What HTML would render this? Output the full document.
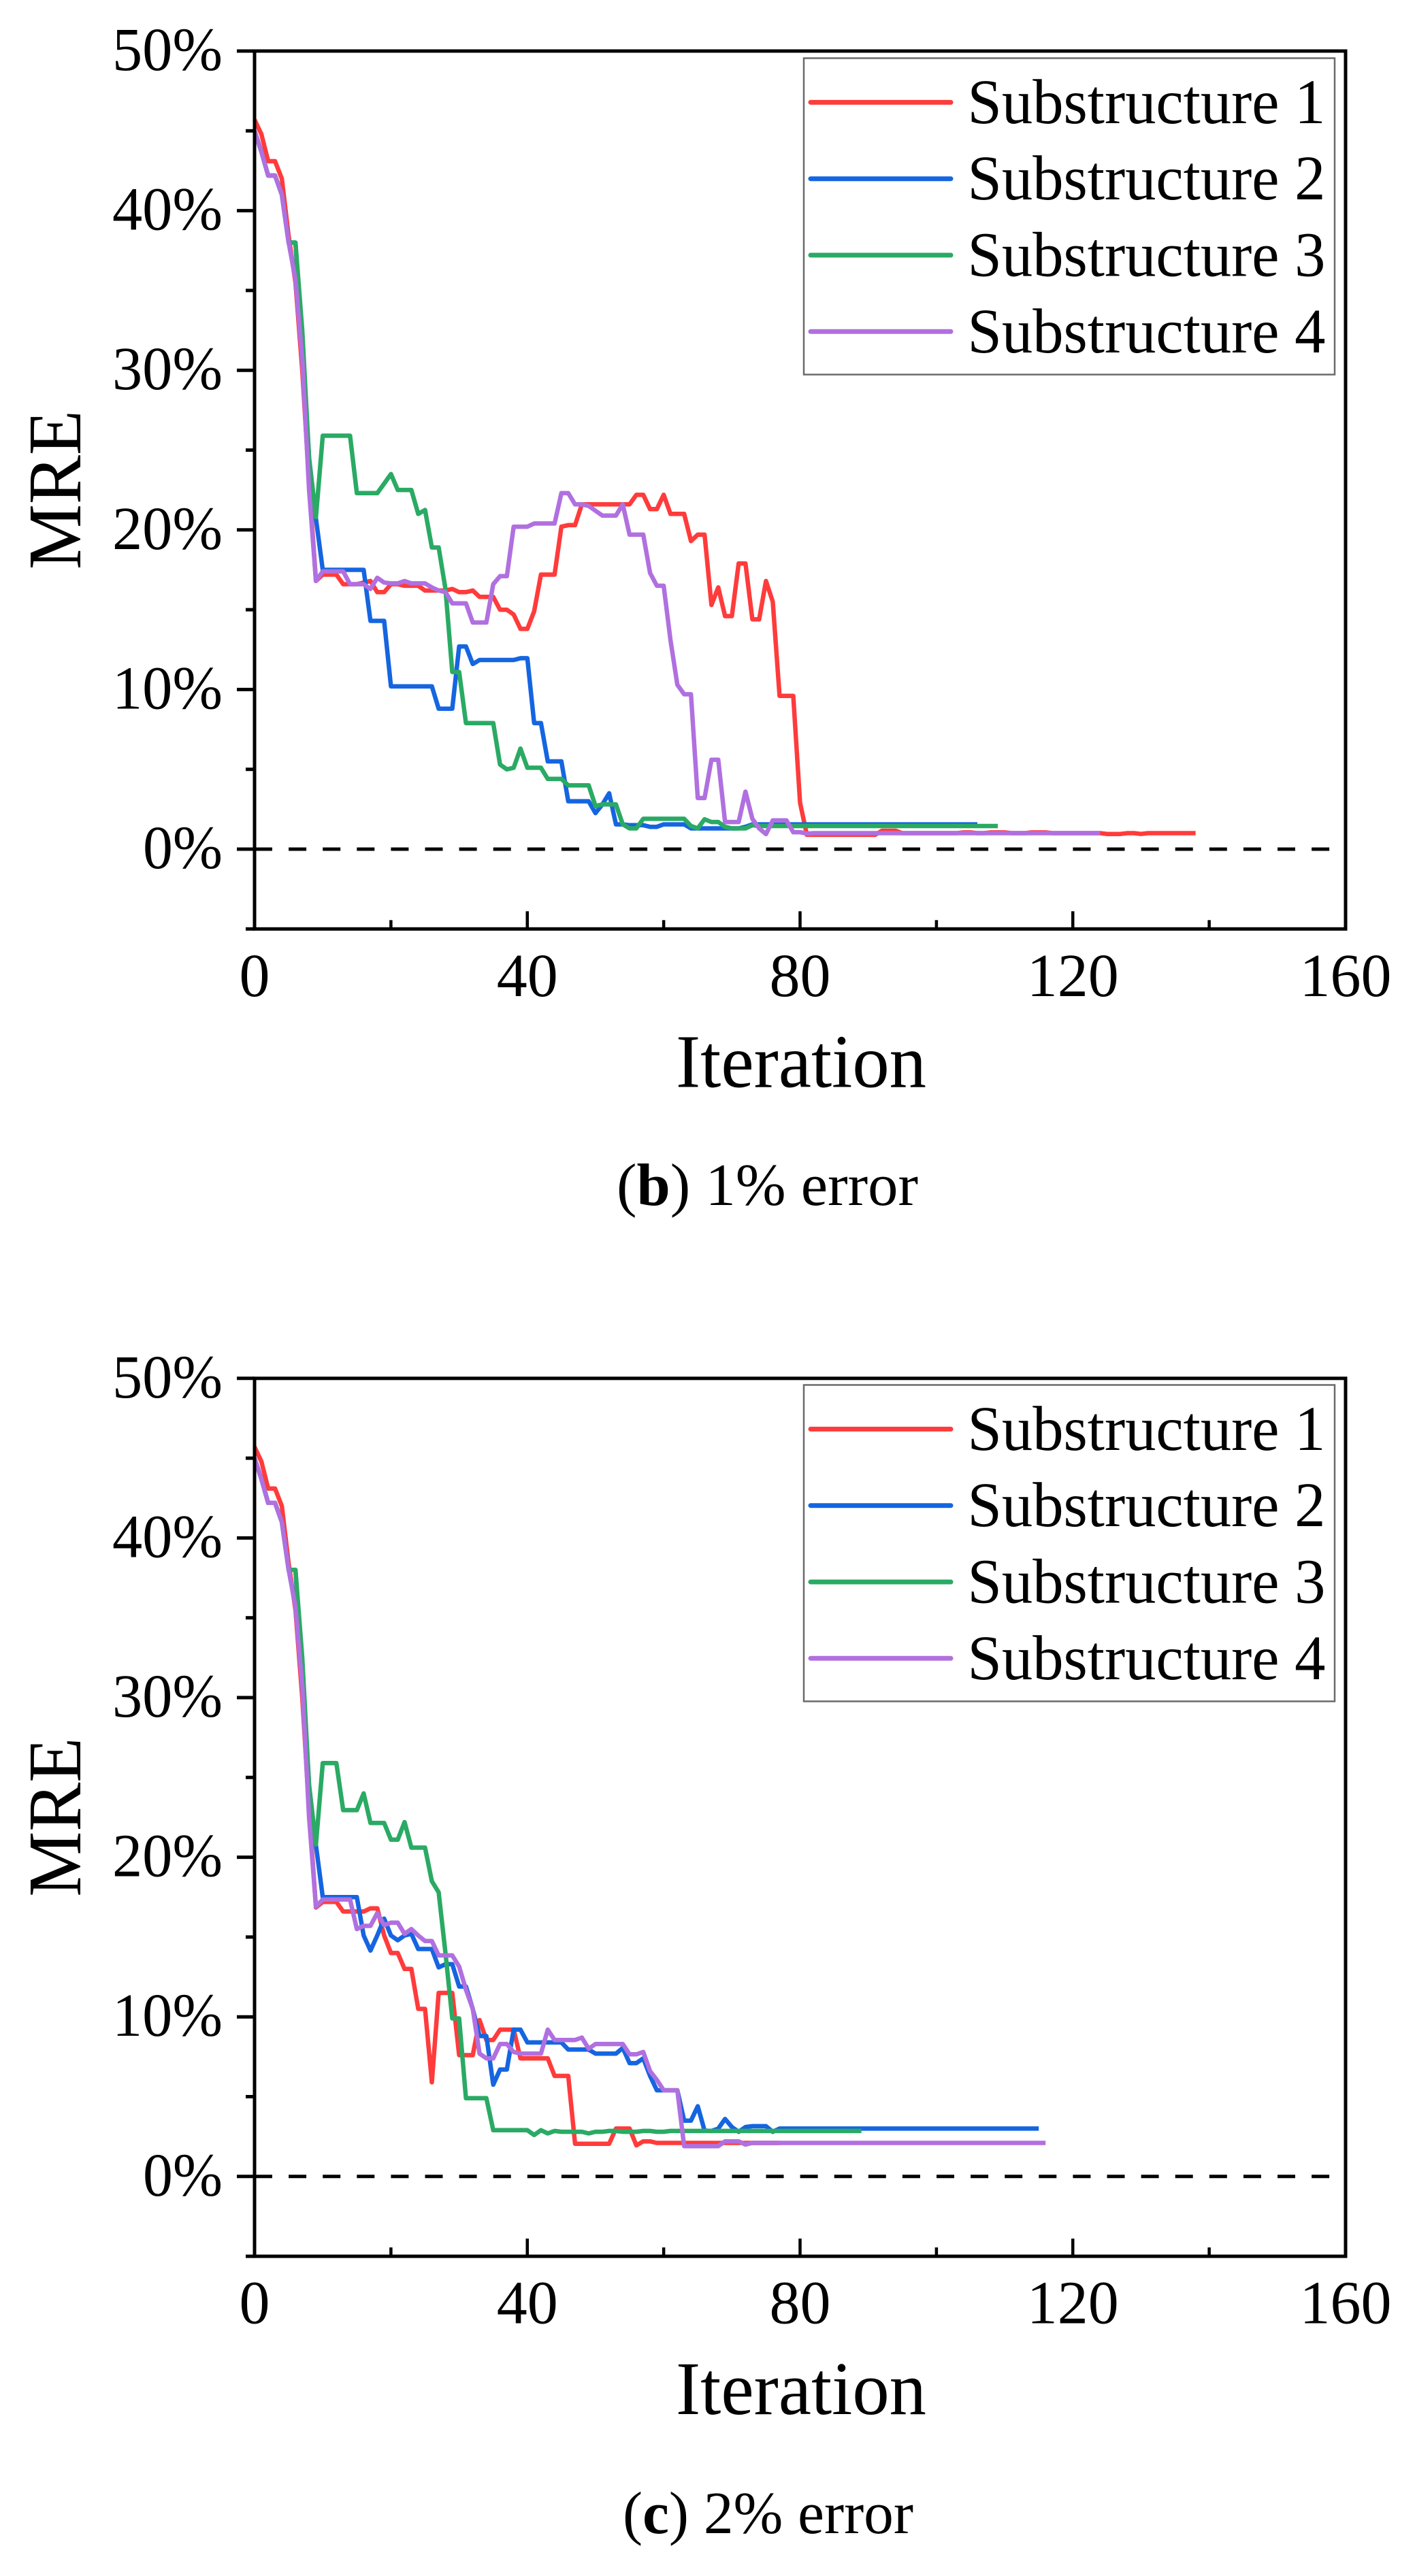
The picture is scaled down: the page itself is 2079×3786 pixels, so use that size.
<!DOCTYPE html>
<html lang="en">
<head>
<meta charset="utf-8">
<title>MRE vs Iteration</title>
<style>
html,body{margin:0;padding:0;background:#fff}
svg{display:block}
text{font-family:"Liberation Serif",serif;fill:#000}
</style>
</head>
<body>
<svg id="figure" xmlns="http://www.w3.org/2000/svg" width="2079" height="3786" viewBox="0 0 2079 3786"></svg>
<script>
var xTickValues = [0, 20, 40, 60, 80, 100, 120, 140, 160];
var xTickLabels = ["0", "", "40", "", "80", "", "120", "", "160"];
var yTickValues = [-5, 0, 5, 10, 15, 20, 25, 30, 35, 40, 45, 50];
var yTickLabels = ["", "0%", "", "10%", "", "20%", "", "30%", "", "40%", "", "50%"];
var seriesNames = ["Substructure 1", "Substructure 2", "Substructure 3", "Substructure 4"];

var error1Sub1 = [
45.7,44.8,43.1,43.1,42.0,38.4,35.5,30,23,16.8,
17.2,17.2,17.2,16.6,16.6,16.6,16.7,16.8,16.1,16.1,
16.6,16.6,16.5,16.5,16.5,16.2,16.2,16.2,16.2,16.3,
16.1,16.1,16.2,15.8,15.8,15.8,15.0,15.0,14.7,13.8,
13.8,14.9,17.2,17.2,17.2,20.2,20.3,20.3,21.6,21.6,
21.6,21.6,21.6,21.6,21.6,21.6,22.2,22.2,21.3,21.3,
22.2,21.0,21.0,21.0,19.3,19.7,19.7,15.3,16.4,14.6,
14.6,17.9,17.9,14.4,14.4,16.8,15.5,9.6,9.6,9.6,
2.9,0.9,0.9,0.9,0.9,0.9,0.9,0.9,0.9,0.9,
0.9,0.9,1.15,1.15,1.15,1.0,1.0,1.0,1.0,1.0,
1.0,1.0,1.0,1.0,1.05,1.05,1.0,1.0,1.05,1.05,
1.05,1.0,1.0,1.0,1.05,1.05,1.05,1.0,1.0,1.0,
1.0,1.0,1.0,1.0,1.0,0.95,0.95,0.95,1.0,1.0,
0.95,1.0,1.0,1.0,1.0,1.0,1.0,1.0,1.0
];
var error1Sub2 = [
45,43.7,42.2,42.2,41,38,38,31.5,24.5,20.7,
17.5,17.5,17.5,17.5,17.5,17.5,17.5,14.3,14.3,14.3,
10.2,10.2,10.2,10.2,10.2,10.2,10.2,8.8,8.8,8.8,
12.7,12.7,11.6,11.85,11.85,11.85,11.85,11.85,11.85,11.96,
11.96,7.9,7.9,5.5,5.5,5.5,3.0,3.0,3.0,3.0,
2.26,2.8,3.5,1.55,1.55,1.5,1.5,1.5,1.4,1.4,
1.55,1.55,1.55,1.55,1.3,1.3,1.3,1.3,1.3,1.3,
1.3,1.3,1.4,1.55,1.55,1.55,1.55,1.55,1.55,1.55,
1.55,1.55,1.55,1.55,1.55,1.55,1.55,1.55,1.55,1.55,
1.55,1.55,1.55,1.55,1.55,1.55,1.55,1.55,1.55,1.55,
1.55,1.55,1.55,1.55,1.55,1.55,1.55
];
var error1Sub3 = [
45,43.7,42.2,42.2,41,38,38,32.5,24.5,20.8,
25.9,25.9,25.9,25.9,25.9,22.3,22.3,22.3,22.3,22.9,
23.5,22.5,22.5,22.5,21,21.25,18.9,18.9,16.3,11.1,
11.1,7.9,7.9,7.9,7.9,7.9,5.3,5.0,5.1,6.3,
5.1,5.1,5.1,4.4,4.4,4.4,4.0,4.0,4.0,4.0,
2.7,2.8,2.8,2.8,1.55,1.3,1.3,1.9,1.9,1.9,
1.9,1.9,1.9,1.9,1.45,1.3,1.87,1.7,1.7,1.4,
1.3,1.3,1.3,1.5,1.45,1.45,1.45,1.45,1.45,1.45,
1.45,1.45,1.45,1.45,1.45,1.45,1.45,1.45,1.45,1.45,
1.45,1.45,1.45,1.45,1.45,1.45,1.45,1.45,1.45,1.45,
1.45,1.45,1.45,1.45,1.45,1.45,1.45,1.45,1.45,1.45
];
var error1Sub4 = [
45,43.7,42.2,42.2,41,38,35.7,30.7,22.5,16.8,
17.4,17.4,17.4,17.4,16.6,16.6,16.6,16.3,17.0,16.7,
16.65,16.65,16.8,16.65,16.65,16.65,16.4,16.2,16.1,15.4,
15.4,15.4,14.2,14.2,14.2,16.6,17.1,17.1,20.2,20.2,
20.2,20.4,20.4,20.4,20.4,22.3,22.3,21.6,21.6,21.5,
21.2,20.9,20.9,20.9,21.6,19.7,19.7,19.7,17.3,16.5,
16.5,13.1,10.3,9.7,9.7,3.2,3.2,5.6,5.6,1.7,
1.7,1.7,3.6,1.9,1.3,0.94,1.8,1.8,1.8,1.06,
1.06,0.97,1.0,1.0,1.0,1.0,1.0,1.0,1.0,1.0,
1.0,1.0,1.0,1.0,1.0,1.0,1.0,1.0,1.0,1.0,
1.0,1.0,1.0,1.0,1.0,1.0,1.0,1.0,1.0,1.0,
1.0,1.0,1.0,1.0,1.0,1.0,1.0,1.0,1.0,1.0,
1.0,1.0,1.0,1.0,1.0
];

var error2Sub1 = [
45.7,44.8,43.1,43.1,42.0,38.4,35.5,30,23,16.85,
17.2,17.2,17.2,16.6,16.6,16.6,16.6,16.8,16.8,15.1,
14,14,13,13,10.5,10.5,5.9,11.5,11.5,11.5,
7.6,7.6,7.6,9.8,8.55,8.55,9.2,9.2,9.2,7.4,
7.4,7.4,7.4,7.4,6.3,6.3,6.3,2.05,2.05,2.05,
2.05,2.05,2.05,3,3,3,1.95,2.2,2.2,2.1,
2.1,2.1,2.1,2.1,2.1,2.1,2.1,2.1,2.1,2.1,
2.1,2.1,2.1,2.1,2.1,2.1,2.1,2.1
];
var error2Sub2 = [
45,43.7,42.2,42.2,41,38,38,31.5,24.5,20.75,
17.5,17.5,17.5,17.5,17.5,17.5,15.1,14.15,15.1,16.15,
15.1,14.8,15.1,15.2,14.25,14.25,14.25,13.1,13.3,13.3,
11.9,11.9,10.5,8.8,8.8,5.75,6.7,6.7,9.2,9.2,
8.4,8.4,8.4,8.4,8.4,8.4,7.95,7.95,7.95,7.95,
7.7,7.7,7.7,7.7,8.05,7.1,7.1,7.4,6.3,5.4,
5.4,5.4,5.4,3.5,3.5,4.4,2.87,2.85,3.0,3.6,
3.1,2.8,3.1,3.15,3.15,3.15,2.8,3.0,3.0,3.0,
3.0,3.0,3.0,3.0,3.0,3.0,3.0,3.0,3.0,3.0,
3.0,3.0,3.0,3.0,3.0,3.0,3.0,3.0,3.0,3.0,
3.0,3.0,3.0,3.0,3.0,3.0,3.0,3.0,3.0,3.0,
3.0,3.0,3.0,3.0,3.0,3.0
];
var error2Sub3 = [
45,43.7,42.2,42.2,41,38,38,32.5,24.5,20.8,
25.9,25.9,25.9,22.95,22.95,22.95,24,22.15,22.15,22.15,
21.1,21.1,22.2,20.6,20.6,20.6,18.5,17.8,14,9.9,
9.9,4.9,4.9,4.9,4.9,2.9,2.9,2.9,2.9,2.9,
2.9,2.6,2.9,2.7,2.85,2.8,2.8,2.8,2.8,2.7,
2.8,2.8,2.85,2.85,2.8,2.8,2.8,2.85,2.85,2.8,
2.8,2.85,2.85,2.85,2.85,2.85,2.85,2.85,2.85,2.85,
2.85,2.85,2.85,2.85,2.85,2.85,2.85,2.85,2.85,2.85,
2.85,2.85,2.85,2.85,2.85,2.85,2.85,2.85,2.85,2.85
];
var error2Sub4 = [
45,43.7,42.2,42.2,41,38,35.7,30.7,22.5,16.9,
17.35,17.35,17.35,17.35,17.35,15.5,15.7,15.7,16.5,15.75,
15.9,15.9,15.2,15.5,15.1,14.75,14.75,13.85,13.85,13.85,
13.15,11.7,10.5,7.7,7.4,7.4,8.3,8.3,7.8,7.7,
7.7,7.7,7.7,9.2,8.55,8.55,8.55,8.55,8.7,8.0,
8.3,8.3,8.3,8.3,8.3,7.65,7.65,7.8,6.6,6.05,
5.4,5.4,5.4,1.9,1.9,1.9,1.9,1.9,1.9,2.2,
2.2,2.2,2.0,2.1,2.1,2.1,2.1,2.1,2.1,2.1,
2.1,2.1,2.1,2.1,2.1,2.1,2.1,2.1,2.1,2.1,
2.1,2.1,2.1,2.1,2.1,2.1,2.1,2.1,2.1,2.1,
2.1,2.1,2.1,2.1,2.1,2.1,2.1,2.1,2.1,2.1,
2.1,2.1,2.1,2.1,2.1,2.1,2.1
];

var NS = "http://www.w3.org/2000/svg";
var figure = document.getElementById("figure");
var seriesColors = ["#ff3b3b", "#1565e0", "#2aaa64", "#b070e0"];

function xScale(v) { return 374 + (v / 160) * 1603; }
function yScale(v, off) { return off + 1248 - v * 23.46; }

function node(parent, tag, attrs, content) {
  var el = document.createElementNS(NS, tag);
  for (var k in attrs) { el.setAttribute(k, attrs[k]); }
  if (content !== undefined) { el.textContent = content; }
  parent.appendChild(el);
  return el;
}

function drawPanel(panelId, off, captionLetter, captionRest, captionX, captionLen, captionY, data) {
  var g = node(figure, "g", {});
  
  

  // zero reference line
  var zero = node(g, "line", {x1: 374, x2: 1977, y1: yScale(0, off), y2: yScale(0, off), stroke: "#000", "stroke-width": 5, "stroke-dasharray": "26 24.1"});
  
  

  // series
  for (var s = 0; s < data.length; s++) {
    var pts = [];
    for (var i = 0; i < data[s].length; i++) {
      pts.push(xScale(i).toFixed(1) + "," + yScale(data[s][i], off).toFixed(1));
    }
    var line = node(g, "polyline", {points: pts.join(" "), fill: "none", stroke: seriesColors[s], "stroke-width": 6.5, "stroke-linejoin": "round"});
    
    
  }

  // frame
  var frame = node(g, "rect", {x: 374, y: yScale(50, off), width: 1603, height: yScale(-5, off) - yScale(50, off), fill: "none", stroke: "#000", "stroke-width": 5});
  
  

  // y ticks
  for (var t = 0; t < yTickValues.length; t++) {
    var isMajor = yTickLabels[t] !== "";
    var ty = yScale(yTickValues[t], off);
    var yt = node(g, "line", {x1: isMajor ? 348 : 361, x2: 374, y1: ty, y2: ty, stroke: "#000", "stroke-width": 5});
    
    
    if (isMajor) {
      var yl = node(g, "text", {x: 327, y: ty + 28, "text-anchor": "end", "font-size": 90, textLength: yTickLabels[t].length > 2 ? 162 : 117, lengthAdjust: "spacingAndGlyphs"}, yTickLabels[t]);
      
      
    }
  }

  // x ticks
  var bottom = yScale(-5, off);
  for (var u = 0; u < xTickValues.length; u++) {
    var major = xTickLabels[u] !== "";
    var tx = xScale(xTickValues[u]);
    var xt = node(g, "line", {x1: tx, x2: tx, y1: bottom, y2: bottom - (major ? 26 : 13), stroke: "#000", "stroke-width": 4.5});
    
    
    if (major) {
      var xl = node(g, "text", {x: tx, y: bottom + 98.5, "text-anchor": "middle", "font-size": 90}, xTickLabels[u]);
      
      
    }
  }

  // axis titles
  var xTitle = node(g, "text", {x: 1177, y: bottom + 232, "text-anchor": "middle", "font-size": 111, textLength: 368, lengthAdjust: "spacingAndGlyphs"}, "Iteration");
  
  

  var yTitle = node(g, "text", {transform: "translate(118," + (720 + off) + ") rotate(-90)", "text-anchor": "middle", "font-size": 111, textLength: 234, lengthAdjust: "spacingAndGlyphs"}, "MRE");
  
  

  // legend
  var legendOff = off > 0 ? 1950 : 0;
  var legendBox = node(g, "rect", {x: 1181, y: 85.5 + legendOff, width: 780, height: 465, fill: "#fff", stroke: "#6a6a6a", "stroke-width": 2.5});
  
  
  for (var n = 0; n < seriesNames.length; n++) {
    var ly = 150.4 + legendOff + n * 112.3;
    var swatch = node(g, "line", {x1: 1191, x2: 1397, y1: ly, y2: ly, stroke: seriesColors[n], "stroke-width": 7, "stroke-linecap": "round"});
    
    
    var lt = node(g, "text", {x: 1421.5, y: ly + 30.5, "font-size": 93, textLength: 526, lengthAdjust: "spacingAndGlyphs"}, seriesNames[n]);
    
    
  }

  // caption
  var cap = node(g, "text", {x: captionX, y: captionY, "font-size": 88, textLength: captionLen, lengthAdjust: "spacingAndGlyphs"});
  
  
  node(cap, "tspan", {}, "(");
  node(cap, "tspan", {"font-weight": "bold"}, captionLetter);
  node(cap, "tspan", {}, ") " + captionRest);
}

drawPanel("b", 0, "b", "1% error", 906, 443, 1771, [error1Sub1, error1Sub2, error1Sub3, error1Sub4]);
drawPanel("c", 1950.8, "c", "2% error", 915, 427, 3723, [error2Sub1, error2Sub2, error2Sub3, error2Sub4]);
</script>
</body>
</html>
